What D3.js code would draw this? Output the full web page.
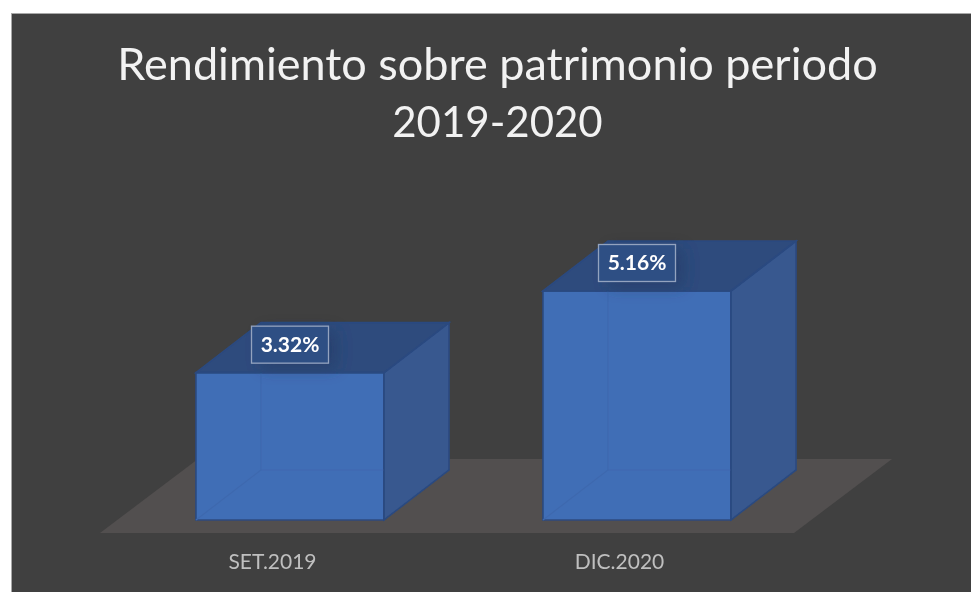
<!DOCTYPE html>
<html>
<head>
<meta charset="utf-8">
<script src="https://cdn.jsdelivr.net/npm/d3@7"></script>
<style>html,body{margin:0;padding:0;background:#fff;overflow:hidden}svg{display:block}</style>
</head>
<body>
<div id="chart"></div>
<script>
const titleLines = ["Rendimiento sobre patrimonio periodo", "2019-2020"];
const categories = ["SET.2019", "DIC.2020"];
const values = [3.32, 5.16];

const W = 971, H = 592;
const baseY = 520, depthX = 65, depthY = 50;
const titleSizes = [45, 42];

const svg = d3.select("#chart").append("svg").attr("width", W).attr("height", H);
const defs = svg.append("defs");
defs.append("filter").attr("id", "soft").append("feGaussianBlur").attr("stdDeviation", 0.55);
defs.append("filter").attr("id", "shadow")
  .attr("x", "-30%").attr("y", "-60%").attr("width", "160%").attr("height", "220%")
  .append("feGaussianBlur").attr("stdDeviation", 8);

const x = d3.scaleBand().domain(categories).range([116.5, 810.5])
  .paddingInner(0.458).paddingOuter(0.229);
const y = d3.scaleLinear().domain([0, 5.16]).range([baseY, 291]);

// Background
svg.append("rect").attr("x", 11.5).attr("y", 13.5).attr("width", W).attr("height", H)
  .attr("fill", "#404040").attr("stroke", "#a8a8a8").attr("stroke-width", 1);

// Floor
const floor = [[100, 533], [794, 533], [892, 459], [198, 459]];
svg.append("path").attr("d", d3.line()(floor) + "Z").attr("fill", "#524f4f");

const root = svg.append("g").attr("filter", "url(#soft)");

// Bars
const line = d3.line();
const bars = root.selectAll("g.bar").data(categories.map((c, i) => ({c, v: values[i]})))
  .join("g").attr("class", "bar");

bars.each(function(d) {
  const g = d3.select(this);
  const l = x(d.c), r = l + x.bandwidth(), t = y(d.v), b = y(0);
  const dx = depthX, dy = depthY;
  const edge = "#2b4a80";
  // front
  g.append("path").attr("d", line([[l,t],[r,t],[r,b],[l,b]]) + "Z")
    .attr("fill", "#416eb6").attr("stroke", edge).attr("stroke-width", 1.6);
  // inner back edges seen through the translucent front
  g.append("path").attr("d", line([[l+dx,t],[l+dx,b-dy],[r,b-dy]]))
    .attr("fill", "none").attr("stroke", "#3e69af").attr("stroke-width", 1.2);
  g.append("path").attr("d", line([[l,b],[l+dx,b-dy]]))
    .attr("fill", "none").attr("stroke", "#3e69af").attr("stroke-width", 1.2);
  // right
  g.append("path").attr("d", line([[r,t],[r+dx,t-dy],[r+dx,b-dy],[r,b]]) + "Z")
    .attr("fill", "#37588f").attr("stroke", edge).attr("stroke-width", 1.6);
  // top
  g.append("path").attr("d", line([[l,t],[l+dx,t-dy],[r+dx,t-dy],[r,t]]) + "Z")
    .attr("fill", "#2e4b7d").attr("stroke", edge).attr("stroke-width", 1.6);
  // label shadow
  const cx = (l + r) / 2, cy = t - 28;
  g.append("rect").attr("x", cx - 28).attr("y", cy - 14).attr("width", 74).attr("height", 38)
    .attr("fill", "#1b2f52").attr("opacity", 0.38).attr("filter", "url(#shadow)");
  // label box
  g.append("rect").attr("x", cx - 38.5).attr("y", cy - 18.5).attr("width", 77).attr("height", 37)
    .attr("fill", "#2f4f84").attr("stroke", "#93a3bf").attr("stroke-width", 1.3);
  g.append("text").attr("x", cx).attr("y", cy + 7).attr("text-anchor", "middle")
    .attr("font-family", "Lato").attr("font-weight", 700).attr("font-size", 21)
    .attr("fill", "#ffffff").text(d3.format(".2f")(d.v) + "%");
});

// Category labels
root.selectAll("text.cat").data(categories).join("text").attr("class", "cat")
  .attr("x", d => x(d) + x.bandwidth() / 2 - 17.5)
  .attr("y", 569).attr("text-anchor", "middle")
  .attr("font-family", "Lato").attr("font-size", 21).attr("fill", "#bfbfbf").text(d => d);

// Title
root.selectAll("text.title").data(titleLines).join("text").attr("class", "title")
  .attr("x", 497.5).attr("y", (d, i) => 80 + i * 57).attr("text-anchor", "middle")
  .attr("font-family", "Lato").attr("font-size", (d, i) => titleSizes[i]).attr("fill", "#f2f2f2").text(d => d);
</script>
</body>
</html>
